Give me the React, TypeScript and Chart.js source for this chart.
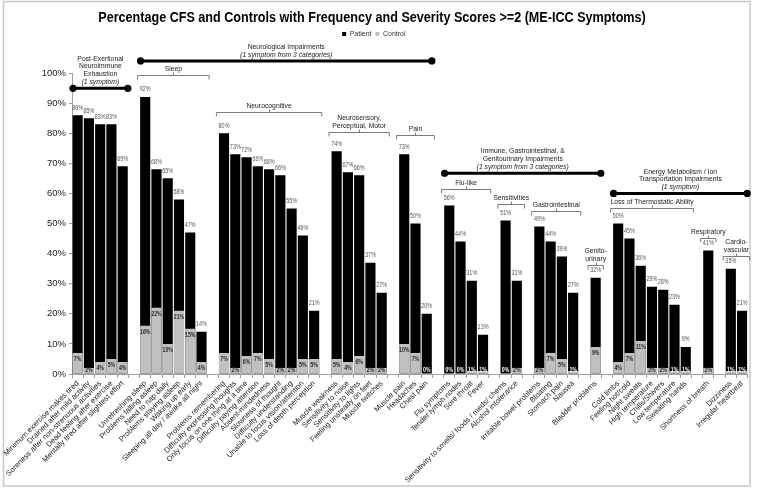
import { useEffect, useRef } from 'react';
import { Chart, registerables } from 'chart.js';

Chart.register(...registerables);

// ---- data (spacer categories are '' with null values) ----
const categories: string[] = [
  'Minimum exercise makes tired', 'Drained after mild activity', 'Soreness after non-strenuous activities', 'Dead feeling after exercise', 'Mentally tired after slightest effort',
  '',
  'Unrefreshing sleep', 'Problems falling asleep', 'Need to nap daily', 'Problems staying asleep', 'Waking up early', 'Sleeping all day / awake all night',
  '',
  'Problems remembering', 'Difficulty expressing thoughts', 'Only focus on one thing at a time', 'Difficulty paying attention', 'Absent-mindedness', 'Slowness of thought', 'Difficulty understanding', 'Unable to focus vision/attention', 'Loss of depth perception',
  '',
  'Muscle weakness', 'Sensitivity to noise', 'Sensitivity to lights', 'Feeling unsteady on feet', 'Muscle twitches',
  '',
  'Muscle pain', 'Headaches', 'Chest pain',
  '',
  'Flu symptoms', 'Tender lymph nodes', 'Sore throat', 'Fever',
  '',
  'Sensitivity to smells/ foods / meds/ chems', 'Alcohol intolerance',
  '',
  'Irritable bowel problems', 'Bloating', 'Stomach pain', 'Nausea',
  '',
  'Bladder problems',
  '',
  'Cold limbs', 'Feeling hot/cold', 'Night sweats', 'High temperature', 'Chills/Shivers', 'Low temperature', 'Sweating hands',
  '',
  'Shortness of breath',
  '',
  'Dizziness', 'Irregular heartbeat',
];

const patient: (number | null)[] = [
  86, 85, 83, 83, 69,
  null,
  92, 68, 65, 58, 47, 14,
  null,
  80, 73, 72, 69, 68, 66, 55, 46, 21,
  null,
  74, 67, 66, 37, 27,
  null,
  73, 50, 20,
  null,
  56, 44, 31, 13,
  null,
  51, 31,
  null,
  49, 44, 39, 27,
  null,
  32,
  null,
  50, 45, 36, 29, 28, 23, 9,
  null,
  41,
  null,
  35, 21,
];

const control: (number | null)[] = [
  7, 2, 4, 5, 4,
  null,
  16, 22, 10, 21, 15, 4,
  null,
  7, 2, 6, 7, 5, 2, 2, 5, 5,
  null,
  5, 4, 6, 2, 2,
  null,
  10, 7, 0,
  null,
  0, 0, 1, 1,
  null,
  0, 2,
  null,
  2, 7, 5, 1,
  null,
  9,
  null,
  4, 7, 11, 2, 2, 1, 1,
  null,
  2,
  null,
  1, 1,
];

const yTicks = [0, 10, 20, 30, 40, 50, 60, 70, 80, 90, 100];

const chartTitle = 'Percentage CFS and Controls with Frequency and Severity Scores >=2 (ME-ICC Symptoms)';

// ---- group annotations (category spans + level in % units) ----
const headerGroups = [
  { lines: ['Post-Exertional', 'Neuroimmune', 'Exhaustion', '(1 symptom)'], italic: [3], first: 'Minimum exercise makes tired', last: 'Mentally tired after slightest effort', level: 94.9 },
  { lines: ['Neurological Impairments', '(1 symptom from 3 categories)'], italic: [1], first: 'Unrefreshing sleep', last: 'Chest pain', level: 104 },
  { lines: ['Immune, Gastrointestinal, &', 'Genitourinary Impairments', '(1 symptom from 3 categories)'], italic: [2], first: 'Flu symptoms', last: 'Bladder problems', level: 66.7 },
  { lines: ['Energy Metabolism / Ion', 'Transportation Impairments', '(1 symptom)'], italic: [2], first: 'Cold limbs', last: 'Irregular heartbeat', level: 60 },
];

const subGroups = [
  { lines: ['Sleep'], first: 'Unrefreshing sleep', last: 'Sleeping all day / awake all night', level: 99.2 },
  { lines: ['Neurocognitive'], first: 'Problems remembering', last: 'Loss of depth perception', level: 87.2 },
  { lines: ['Neurosensory,', 'Perceptual, Motor'], first: 'Muscle weakness', last: 'Muscle twitches', level: 80.5 },
  { lines: ['Pain'], first: 'Muscle pain', last: 'Chest pain', level: 79.5 },
  { lines: ['Flu-like'], first: 'Flu symptoms', last: 'Fever', level: 61.3 },
  { lines: ['Sensitivities'], first: 'Sensitivity to smells/ foods / meds/ chems', last: 'Alcohol intolerance', level: 56.4 },
  { lines: ['Gastrointestinal'], first: 'Irritable bowel problems', last: 'Nausea', level: 54.1 },
  { lines: ['Genito-', 'urinary'], first: 'Bladder problems', last: 'Bladder problems', level: 36.1 },
  { lines: ['Loss of Thermostatic Ability'], first: 'Cold limbs', last: 'Sweating hands', level: 55.1 },
  { lines: ['Respiratory'], first: 'Shortness of breath', last: 'Shortness of breath', level: 45.2 },
  { lines: ['Cardio-', 'vascular'], first: 'Dizziness', last: 'Irregular heartbeat', level: 39.3 },
];

const SANS = "'Liberation Sans', Arial, sans-serif";

function narrowText(ctx: CanvasRenderingContext2D, text: string, x: number, y: number, font: string, sx: number) {
  ctx.save();
  ctx.translate(x, y);
  ctx.scale(sx, 1);
  ctx.font = font;
  ctx.fillText(text, 0, 0);
  ctx.restore();
}

const framePlugin = {
  id: 'frame',
  beforeDraw(chart: any) {
    const { ctx, width, height } = chart;
    ctx.save();
    ctx.fillStyle = '#ffffff';
    ctx.fillRect(0, 0, width, height);
    ctx.strokeStyle = '#c8c8c8';
    ctx.lineWidth = 1.5;
    ctx.strokeRect(3.5, 1.5, 746.5, 484.5);
    ctx.restore();
  },
  afterDraw(chart: any) {
    const { ctx } = chart;
    ctx.save();
    ctx.fillStyle = '#000000';
    ctx.textAlign = 'center';
    ctx.textBaseline = 'middle';
    narrowText(ctx, chartTitle, 372, 18, `bold 14px ${SANS}`, 0.9);
    ctx.restore();
  },
};

const annotPlugin = {
  id: 'annot',
  afterDatasetsDraw(chart: any) {
    const { ctx } = chart;
    const xs = chart.scales.x;
    const ys = chart.scales.y;
    const half = (xs.getPixelForValue(1) - xs.getPixelForValue(0)) / 2;
    const idx = (name: string) => categories.indexOf(name);

    ctx.save();
    ctx.textAlign = 'center';
    ctx.textBaseline = 'middle';
    // value labels
    const pMeta = chart.getDatasetMeta(0);
    const cMeta = chart.getDatasetMeta(1);
    patient.forEach((v, i) => {
      if (v === null) return;
      const el = pMeta.data[i];
      ctx.fillStyle = '#555555';
      narrowText(ctx, `${v}%`, el.x, el.y - 7.5, `6.8px ${SANS}`, 0.8);
    });
    control.forEach((v, i) => {
      if (v === null) return;
      const el = cMeta.data[i];
      const cy = Math.min(el.y + 6.5, el.base - 3.5);
      ctx.fillStyle = v <= 1 ? '#ffffff' : '#2a2a2a';
      narrowText(ctx, `${v}%`, el.x, cy, `bold 6.5px ${SANS}`, 0.8);
    });

    // sub-group brackets
    subGroups.forEach((g) => {
      const x0 = xs.getPixelForValue(idx(g.first)) - half - 2;
      const x1 = xs.getPixelForValue(idx(g.last)) + half + 2;
      const yy = Math.round(ys.getPixelForValue(g.level)) + 0.5;
      const xm = Math.round((x0 + x1) / 2) + 0.5;
      ctx.strokeStyle = '#7a7a7a';
      ctx.lineWidth = 1;
      ctx.beginPath();
      ctx.moveTo(x0, yy + 4);
      ctx.lineTo(x0, yy);
      ctx.lineTo(x1, yy);
      ctx.lineTo(x1, yy + 4);
      ctx.moveTo(xm, yy);
      ctx.lineTo(xm, yy - 3);
      ctx.stroke();
      ctx.fillStyle = '#1a1a1a';
      const n = g.lines.length;
      g.lines.forEach((t, k) => {
        narrowText(ctx, t, (x0 + x1) / 2, yy - 7 - (n - 1 - k) * 7.3, `8px ${SANS}`, 0.85);
      });
    });

    // header lines with dots
    headerGroups.forEach((g) => {
      const x0 = xs.getPixelForValue(idx(g.first)) - half + 1;
      const x1 = xs.getPixelForValue(idx(g.last)) + half - 0.5;
      const yy = ys.getPixelForValue(g.level);
      ctx.strokeStyle = '#000000';
      ctx.lineWidth = 3;
      ctx.beginPath();
      ctx.moveTo(x0, yy);
      ctx.lineTo(x1, yy);
      ctx.stroke();
      ctx.fillStyle = '#000000';
      [x0, x1].forEach((px) => {
        ctx.beginPath();
        ctx.arc(px, yy, 3.6, 0, Math.PI * 2);
        ctx.fill();
      });
      const n = g.lines.length;
      ctx.fillStyle = '#1a1a1a';
      g.lines.forEach((t, k) => {
        const font = `${g.italic.includes(k) ? 'italic ' : ''}8px ${SANS}`;
        narrowText(ctx, t, (x0 + x1) / 2, yy - 6.5 - (n - 1 - k) * 7.8, font, 0.85);
      });
    });
    ctx.restore();
  },
};

export default function App() {
  const ref = useRef<HTMLCanvasElement>(null);

  useEffect(() => {
    if (!ref.current) return;
    Chart.defaults.font.family = SANS;
    const chart = new Chart(ref.current, {
      type: 'bar',
      data: {
        labels: categories,
        datasets: [
          {
            label: 'Patient',
            data: patient,
            backgroundColor: '#000000',
            order: 2,
            grouped: false,
            barPercentage: 0.9,
            categoryPercentage: 1,
          },
          {
            label: 'Control',
            data: control,
            backgroundColor: '#c0c0c0',
            order: 1,
            grouped: false,
            barPercentage: 0.9,
            categoryPercentage: 1,
          },
        ],
      },
      options: {
        responsive: false,
        animation: false,
        devicePixelRatio: 1,
        layout: { padding: { left: 0, right: 9.3, top: 26.5, bottom: 0 } },
        plugins: {
          title: { display: false },
          legend: {
            display: true,
            position: 'top',
            labels: {
              boxWidth: 4,
              boxHeight: 4,
              padding: 4,
              color: '#333333',
              font: { size: 7, family: SANS },
              sort: (a: any, b: any) => a.datasetIndex - b.datasetIndex,
            },
          },
          subtitle: {
            display: true,
            text: '',
            weight: 500,
            position: 'top',
            font: { size: 10, lineHeight: 1 },
            padding: { top: 15.5, bottom: 0 },
          } as any,
          tooltip: { enabled: false },
        },
        scales: {
          x: {
            offset: true,
            grid: { display: true, drawOnChartArea: false, tickLength: 4, color: '#a0a0a0', offset: true },
            border: { display: true, color: '#a0a0a0' },
            ticks: {
              autoSkip: false,
              maxRotation: 45,
              minRotation: 45,
              padding: 1,
              color: '#222222',
              font: { size: 7.6, family: SANS },
            },
            afterFit: (s: any) => {
              s.height = 117;
              s.paddingLeft = 0;
              s.paddingRight = 0;
            },
          },
          y: {
            min: 0,
            max: 100,
            afterBuildTicks: (s: any) => {
              s.ticks = yTicks.map((v) => ({ value: v }));
            },
            grid: { display: true, drawOnChartArea: false, tickLength: 3, color: '#a0a0a0' },
            border: { display: true, color: '#a0a0a0' },
            ticks: {
              padding: 3,
              color: '#222222',
              font: { size: 9.5, family: SANS },
              callback: (v: any) => `${v}%`,
            },
            afterFit: (s: any) => {
              s.width = 72;
            },
          },
        },
      },
      plugins: [framePlugin, annotPlugin],
    });
    return () => chart.destroy();
  }, []);

  return (
    <div style={{ position: 'absolute', left: 0, top: 0, width: 757, height: 491, background: '#fff' }}>
      <canvas ref={ref} width={757} height={491} style={{ display: 'block' }} />
    </div>
  );
}
